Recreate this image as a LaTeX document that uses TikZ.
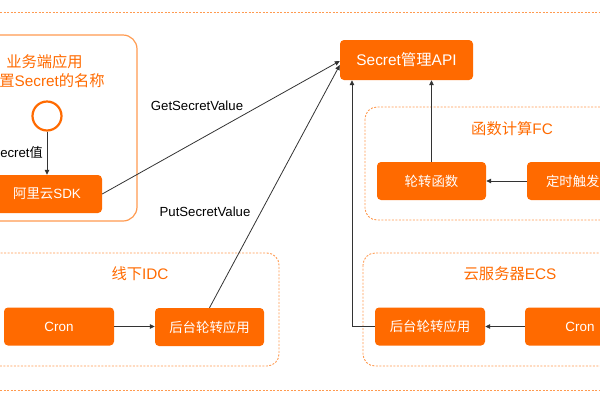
\documentclass[tikz,border=0pt]{standalone}
\usepackage{fontspec}
\setmainfont{Liberation Sans}
\newfontfamily\cjk{Noto Sans CJK SC}
\usetikzlibrary{arrows.meta}

\definecolor{aliorange}{HTML}{FF6A00}
\definecolor{lightorange}{HTML}{FF9A50}

\tikzset{
  box/.style={rectangle, rounded corners=4pt, fill=aliorange, text=white, minimum width=110pt, minimum height=38pt, inner sep=0pt, font=\fontsize{13.4}{16}\selectfont},
  group/.style={draw=lightorange, line width=0.9pt, dash pattern=on 2pt off 1.5pt, rounded corners=12pt},
  grouptitle/.style={text=aliorange, inner sep=0pt, font=\fontsize{15.3}{18}\selectfont},
  flow/.style={draw=black!80, line width=0.8pt, -{Triangle[length=5pt,width=4.5pt]}},
  lbl/.style={inner sep=0pt, font=\fontsize{13.2}{16}\selectfont},
}

\begin{document}
\begin{tikzpicture}[x=1pt, y=-1pt]
        \useasboundingbox (0,0) rectangle (600,400);
        \clip (0,0) rectangle (600,400);

        % outer dashed lines
        \draw[lightorange, line width=0.9pt, dash pattern=on 2pt off 1.5pt] (0,12) -- (600,12);
        \draw[lightorange, line width=0.9pt, dash pattern=on 2pt off 1.5pt] (0,390) -- (600,390);

        % business application
        \draw[draw=lightorange, line width=1.2pt, rounded corners=14pt] (-20,35) rectangle (137,221);
        \node[grouptitle] (apptitle) at (44.5,62) {\cjk 业务端应用};
        \node[grouptitle, anchor=east] (appname) at (105,81) {{\cjk 置}Secret{\cjk 的名称}};
        \node[circle, draw=aliorange, line width=2.2pt, fill=white, minimum size=29pt, inner sep=0pt] (start) at (47,116) {};
        \node[box] (sdk) at (47,194) {{\cjk 阿里云}SDK};
        \node[lbl, anchor=east] (valuelbl) at (43,152) {ecret{\cjk 值}};

        \draw[flow] (start) -- (sdk);

        % secret api
        \node[box, minimum width=133pt, minimum height=40pt, font=\fontsize{15.4}{18}\selectfont] (api) at (406.5,60) {Secret{\cjk 管理}API};

        % function compute
        \draw[group] (365,107) rectangle (625,220);
        \node[grouptitle] (fctitle) at (512,129) {{\cjk 函数计算}FC};
        \node[box, minimum width=109pt] (rotfn) at (431.5,181) {\cjk 轮转函数};
        \node[box, text width=72pt, inner xsep=19pt, align=left] (timer) at (582,181) {\cjk 定时触发};

        \draw[flow] (timer) -- (rotfn);
        \draw[flow] (rotfn.north) -- (rotfn.north |- api.south);

        % offline idc
        \draw[group] (-20,253) rectangle (279,366);
        \node[grouptitle] (idctitle) at (140,274) {{\cjk 线下}IDC};
        \node[box] (cronidc) at (59,326.5) {Cron};
        \node[box, minimum width=109pt] (idcapp) at (209.5,327) {\cjk 后台轮转应用};

        \draw[flow] (cronidc.east) -- (cronidc.east -| idcapp.west);

        % ecs
        \draw[group] (363,253) rectangle (625,366);
        \node[grouptitle] (ecstitle) at (510,274) {{\cjk 云服务器}ECS};
        \node[box] (ecsapp) at (430,326.5) {\cjk 后台轮转应用};
        \node[box] (cronecs) at (580,326.5) {Cron};
        \coordinate (bend) at (352,326.5);

        \draw[flow] (cronecs) -- (ecsapp);
        \draw[flow] (ecsapp.west) -- (bend) -- (bend |- api.south);

        % api calls
        \draw[flow] (sdk.east) -- ([yshift=-1pt]api.west);
        \draw[flow] (idcapp.north) -- ([yshift=-5pt]api.west);
        \node[lbl] (getval) at (197,106) {GetSecretValue};
        \node[lbl] (putval) at (205,212) {PutSecretValue};
\end{tikzpicture}
\end{document}
